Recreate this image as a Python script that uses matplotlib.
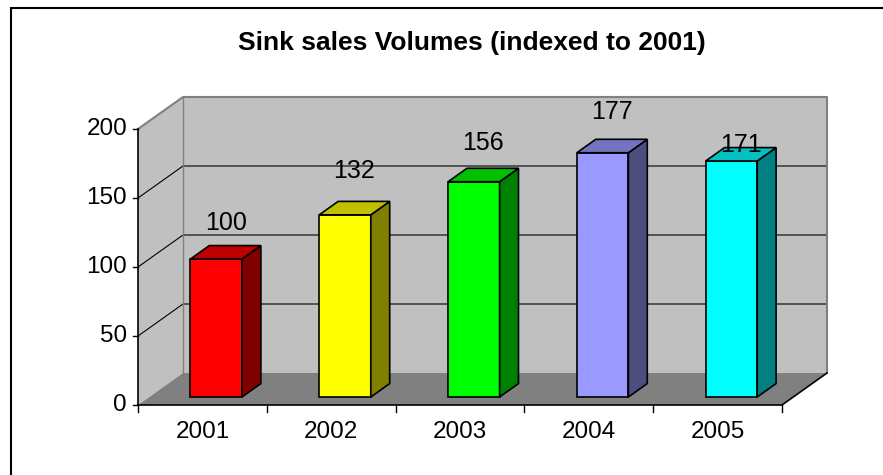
import matplotlib
matplotlib.use("Agg")
import matplotlib.pyplot as plt
from matplotlib.patches import Polygon, Rectangle

# chart data
years = ["2001", "2002", "2003", "2004", "2005"]
volumes = [100, 132, 156, 177, 171]
yticks = [0, 50, 100, 150, 200]

# bar colours: front face, top, side
front_cols = ["#FF0000", "#FFFF00", "#00FF00", "#9999FF", "#00FFFF"]
top_cols = ["#C00000", "#C0C000", "#00C000", "#7373BF", "#00C0C0"]
side_cols = ["#800000", "#808000", "#008000", "#4D4D80", "#008080"]

# how far each value label sits above its bar (pixels)
label_lift = [29, 37, 32, 34, 9]

plt.rcParams["font.family"] = ["Liberation Sans", "DejaVu Sans"]

fig = plt.figure(figsize=(8.83, 4.75), dpi=100)
ax = fig.add_axes([0, 0, 1, 1])

# x in category units (128.8 px each), y in value units (1.38 px each)
X0, XS = 138, 128.8
Y0, YS = 405, 1.38
ax.set_xlim((0 - X0) / XS, (883 - X0) / XS)
ax.set_ylim((Y0 - 475) / YS, Y0 / YS)
ax.axis("off")

n = len(years)
ymax = 200
DX, DY = 45 / XS, 32 / YS     # full depth of the box
wall = "#C0C0C0"
edge = "#808080"

# back wall, left wall, floor
ax.add_patch(Rectangle((DX, DY), n, ymax, fc=wall, ec="none", zorder=1))
ax.add_patch(Polygon([(0, 0), (DX, DY), (DX, DY + ymax), (0, ymax)],
                     fc=wall, ec="none", zorder=1))
ax.add_patch(Polygon([(0, 0), (n, 0), (n + DX, DY), (DX, DY)],
                     fc="#808080", ec="none", zorder=2))

# gridlines on the walls
for v in yticks[1:-1]:
    ax.plot([0, DX, n + DX], [v, v + DY, v + DY], color="black", lw=0.8, zorder=2)

# wall edges
ax.plot([0, DX, n + DX, n + DX], [ymax, ymax + DY, ymax + DY, DY],
        color=edge, lw=1.5, zorder=2)
ax.plot([DX, DX], [DY, DY + ymax], color=edge, lw=1.0, zorder=2)

# axes lines and ticks
ax.plot([0, 0], [0, ymax], color="black", lw=1.2, zorder=3)
ax.plot([0, n, n + DX], [0, 0, DY], color="black", lw=1.2, zorder=3)
for v in yticks:
    ax.plot([-5 / XS, 0], [v, v], color="black", lw=1.0, zorder=3)
    ax.text(-11 / XS, v, str(v), ha="right", va="center", fontsize=17.5)
for i in range(n + 1):
    ax.plot([i, i], [0, -7 / YS], color="black", lw=1.0, zorder=3)
for i, yr in enumerate(years):
    ax.text(i + 0.5, -27 / YS, yr, ha="center", va="center", fontsize=17.5)

# the 3d bars
f0, f1 = 0.25, 0.67
for i, v in enumerate(volumes):
    x0, x1 = i + 0.32, i + 0.72
    ax0, ay0 = f0 * DX, f0 * DY
    bx0, by0 = f1 * DX, f1 * DY
    front = [(x0 + ax0, ay0), (x1 + ax0, ay0), (x1 + ax0, ay0 + v), (x0 + ax0, ay0 + v)]
    side = [(x1 + ax0, ay0), (x1 + bx0, by0), (x1 + bx0, by0 + v), (x1 + ax0, ay0 + v)]
    top = [(x0 + ax0, ay0 + v), (x1 + ax0, ay0 + v), (x1 + bx0, by0 + v), (x0 + bx0, by0 + v)]
    for pts, col in [(front, front_cols[i]), (side, side_cols[i]), (top, top_cols[i])]:
        ax.add_patch(Polygon(pts, fc=col, ec="black", lw=1.2, joinstyle="miter", zorder=4))

    fm = (f0 + f1) / 2
    ax.annotate(str(v), (i + 0.52 + fm * DX, fm * DY + v),
                xytext=(0, label_lift[i] * 0.72), textcoords="offset points",
                ha="center", va="center", fontsize=18, zorder=6)

# title and outer frame
fig.text(471.5 / 883, 1 - 50 / 475, "Sink sales Volumes (indexed to 2001)",
         ha="center", va="baseline", fontsize=19, fontweight="bold")
fig.patches.append(Rectangle((11 / 883, -0.1), 1.0, 1 - 8 / 475 + 0.1,
                             transform=fig.transFigure, fill=False,
                             ec="black", lw=1.5))

fig.savefig("out.png", dpi=100)
